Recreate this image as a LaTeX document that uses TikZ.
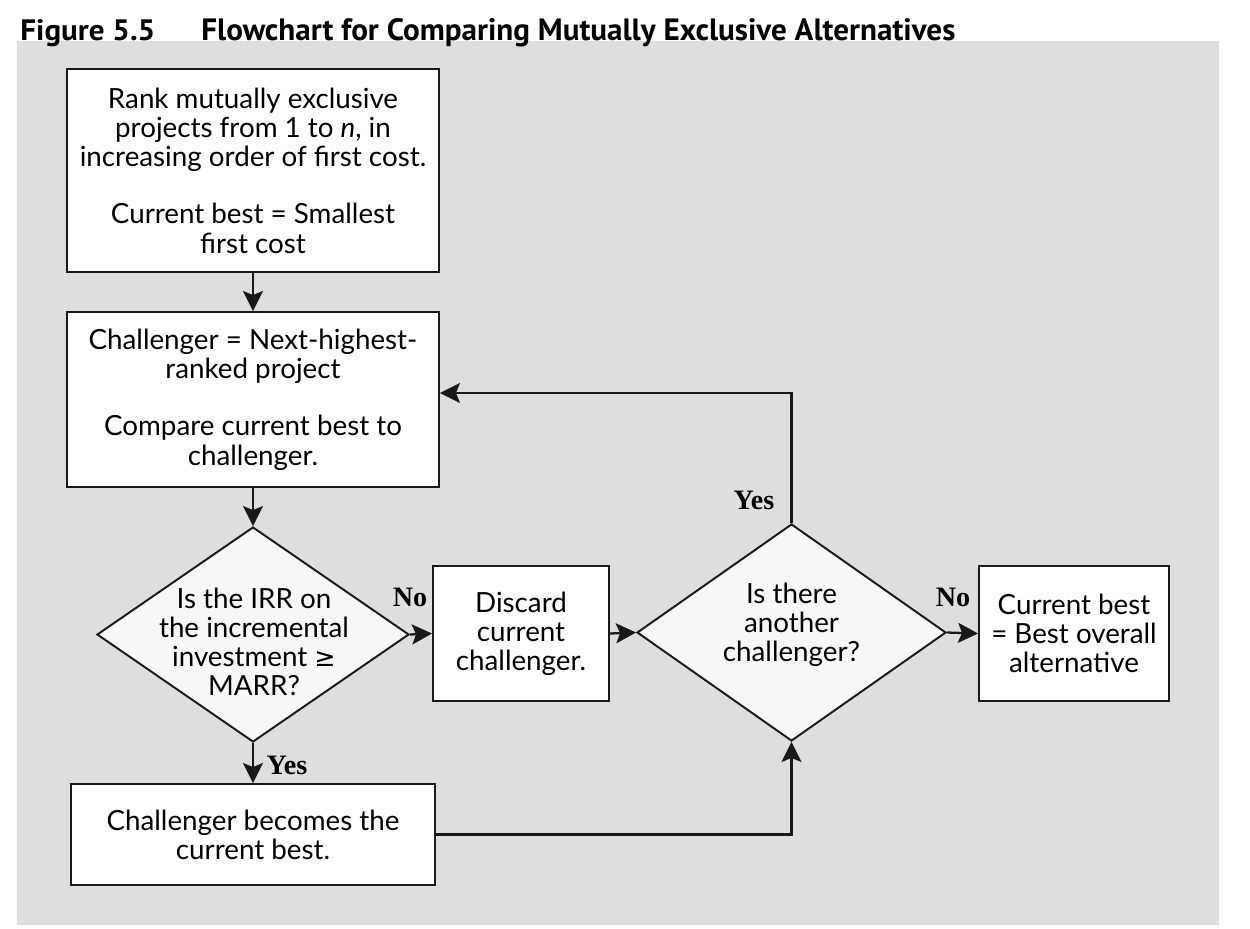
\documentclass[tikz,border=0pt]{standalone}
\usepackage{graphicx}
\usepackage{fontspec}
\setmainfont{Lato}
\newfontfamily\titlefont{PT Sans}
\newfontfamily\labelfont{Liberation Serif}
\newfontfamily\symfont{DejaVu Sans}
\usetikzlibrary{shapes.geometric,arrows.meta}
\definecolor{bgray}{HTML}{DEDEDE}
\definecolor{dfill}{HTML}{F7F7F9}
\begin{document}
\begin{tikzpicture}[
  every node/.style={inner sep=0pt},
  body/.style={font=\fontsize{15.8}{16.6}\selectfont, align=center},
  box/.style={draw=black!90, line width=1.1pt, fill=white, body},
  dia/.style={diamond, draw=black!90, line width=1.1pt, fill=dfill, inner sep=0pt},
  lbl/.style={font=\labelfont\bfseries\fontsize{16}{18}\selectfont},
  arr/.style={draw=black!90, line width=1.3pt, -{Stealth[length=0.4cm,width=0.4cm,inset=0.08cm]}},
  line/.style={draw=black!90, line width=1.3pt}
]
\useasboundingbox (0,0) rectangle (25,-18.56);
\fill[bgray] (0.34,-0.82) rectangle (24.38,-18.5);

% title
\node[anchor=base west] (tnum) at (0.4,-0.8) {\resizebox{2.7cm}{0.42cm}{\titlefont\bfseries Figure 5.5}};
\node[anchor=base west] (ttext) at (4.02,-0.8) {\resizebox{15.08cm}{0.44cm}{\titlefont\bfseries Flowchart for Comparing Mutually Exclusive Alternatives}};

% boxes
\node[box, minimum width=7.44cm, minimum height=4.06cm] (b1) at (5.06,-3.41)
  {Rank mutually exclusive\\projects from 1 to \textit{n}, in\\increasing order of first cost.\\[16pt]Current best = Smallest\\first cost};
\node[box, minimum width=7.44cm, minimum height=3.5cm] (b2) at (5.06,-7.99)
  {Challenger = Next-highest-\\ranked project\\[16pt]Compare current best to\\challenger.};
\node[dia, minimum width=6.24cm, minimum height=4.3cm] (d1) at (5.06,-12.69) {};
\node[body] (d1t) at (5.08,-12.84) {Is the IRR on\\the incremental\\investment {\symfont\fontsize{14.5}{16.6}\selectfont ≥}\\MARR?};
\node[box, minimum width=3.52cm, minimum height=2.7cm] (b3) at (10.42,-12.67)
  {Discard\\current\\challenger.};
\node[dia, minimum width=6.18cm, minimum height=4.34cm] (d2) at (15.83,-12.65) {};
\node[body] (d2t) at (15.83,-12.5) {Is there\\another\\challenger?};
\node[box, minimum width=3.8cm, minimum height=2.7cm] (b5) at (21.48,-12.67)
  {Current best\\= Best overall\\alternative};
\node[box, minimum width=7.28cm, minimum height=2.02cm] (b4) at (5.06,-16.69)
  {Challenger becomes the\\current best.};

% connectors
\draw[arr] (b1.south) -- (b2.north);
\draw[arr] (b2.south) -- (d1.north);
\draw[arr] (d1.east) -- (b3.west);
\draw[arr] (b3.east) -- (d2.west);
\draw[arr] (d2.east) -- (b5.west);
\draw[arr] (d1.south) -- (b4.north);
\draw[arr] (b4.east) -| (d2.south);
\draw[arr] (d2.north) |- ([yshift=0.13cm]b2.east);

% labels
\node[lbl] (lno1) at (8.2,-11.94) {No};
\node[lbl] (lno2) at (19.06,-11.94) {No};
\node[lbl] (lyes1) at (15.08,-10.0) {Yes};
\node[lbl] (lyes2) at (5.74,-15.3) {Yes};
\end{tikzpicture}
\end{document}
